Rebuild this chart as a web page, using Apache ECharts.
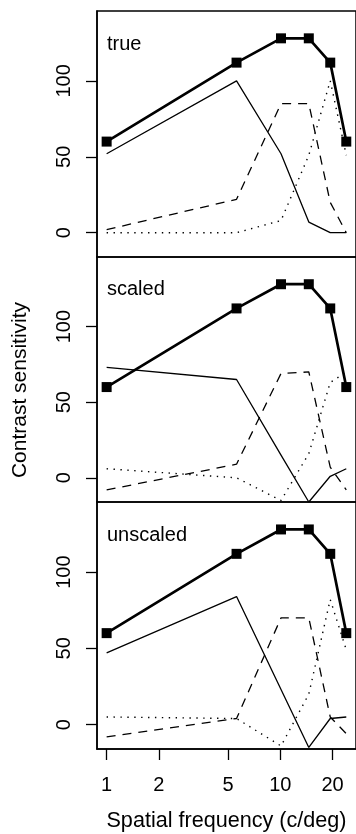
<!DOCTYPE html>
<html>
<head>
<meta charset="utf-8">
<script src="https://cdn.jsdelivr.net/npm/echarts@6/dist/echarts.min.js"></script>
<style>
  html, body { margin: 0; padding: 0; background: #fff; }
  #chart { width: 356px; height: 834px; }
</style>
</head>
<body>
<div id="chart"></div>
<script>
  // spatial frequency (c/deg) of the measured points
  const freq = [1, 5.6, 10.1, 14.6, 19.4, 24]
  // measured contrast sensitivity, same in every panel
  const observed = [60, 112, 128, 128, 112, 60]
  const panelNames = ['true', 'scaled', 'unscaled']
  // mechanism curves per panel
  const trueSolid = [52, 100, 52, 7, 0, 0]
  const trueDashed = [2, 22, 85, 85, 20, 0]
  const trueDotted = [0, 0, 8, 51, 100, 51]
  const scaledSolid = [73, 65, 15, -16, 1, 6]
  const scaledDashed = [-8, 9, 69, 70, 7, -8]
  const scaledDotted = [6, 0, -15, 16, 63, 70]
  const unscaledSolid = [47, 84, 23, -15, 4, 5]
  const unscaledDashed = [-8, 4, 70, 70, 5, -6]
  const unscaledDotted = [5, 4, -14, 20, 82, 49]
  const xTicks = [1, 2, 5, 10, 20]
  const yTicks = [0, 50, 100]

  const panels = [
    [trueSolid, trueDashed, trueDotted],
    [scaledSolid, scaledDashed, scaledDotted],
    [unscaledSolid, unscaledDashed, unscaledDotted],
  ]

  const font = '"Liberation Sans", Arial, sans-serif'
  const gridTops = [11, 257, 502]
  const gridHeights = [246, 245, 247]
  const labelY = [45, 290, 536]

  // x axis is drawn on log10 of frequency
  const lg = v => Math.log10(v)
  const pts = ys => ys.map((y, i) => [lg(freq[i]), y])

  var grid = []
  var xAxis = []
  var yAxis = []
  var series = []
  var graphic = []

  panels.forEach((p, k) => {
    const last = k === panels.length - 1
    grid.push({
      left: 97,
      top: gridTops[k],
      width: 261, // right frame falls just outside the picture
      height: gridHeights[k],
      show: true,
      borderColor: '#000',
      borderWidth: 1.5,
    })
    xAxis.push({
      type: 'value',
      gridIndex: k,
      position: 'bottom',
      min: lg(0.88),
      max: lg(27.3),
      show: last,
      splitLine: { show: false },
      axisLine: { show: true, onZero: false, lineStyle: { color: '#000', width: 1.5 } },
      axisTick: {
        show: true,
        length: 11,
        lineStyle: { color: '#000', width: 1.3 },
        customValues: xTicks.map(lg),
      },
      axisLabel: {
        color: '#000',
        fontFamily: font,
        fontSize: 20,
        margin: 26,
        customValues: xTicks.map(lg),
        formatter: v => String(Math.round(Math.pow(10, v))),
      },
      name: last ? 'Spatial frequency (c/deg)' : '',
      nameLocation: 'middle',
      nameGap: 61,
      nameTextStyle: { color: '#000', fontFamily: font, fontSize: 21.6 },
    })
    yAxis.push({
      type: 'value',
      gridIndex: k,
      position: 'left',
      min: -16,
      max: 146,
      splitLine: { show: false },
      axisLine: { show: true, onZero: false, lineStyle: { color: '#000', width: 1.5 } },
      axisTick: {
        show: true,
        length: 11,
        lineStyle: { color: '#000', width: 1.3 },
        customValues: yTicks,
      },
      axisLabel: {
        color: '#000',
        fontFamily: font,
        fontSize: 20,
        rotate: 90,
        margin: 23,
        customValues: yTicks,
      },
    })

    const common = { type: 'line', xAxisIndex: k, yAxisIndex: k, showSymbol: false, silent: true, animation: false }
    series.push(Object.assign({}, common, {
      data: pts(p[0]),
      lineStyle: { color: '#000', width: 1.3 },
    }))
    series.push(Object.assign({}, common, {
      data: pts(p[1]),
      lineStyle: { color: '#000', width: 1.3, type: [9, 7] },
    }))
    series.push(Object.assign({}, common, {
      data: pts(p[2]),
      lineStyle: { color: '#000', width: 1.4, type: [1.4, 5.5] },
    }))
    // observed data: thick line with filled squares
    series.push(Object.assign({}, common, {
      data: pts(observed),
      showSymbol: true,
      symbol: 'rect',
      symbolSize: 10,
      itemStyle: { color: '#000' },
      lineStyle: { color: '#000', width: 2.7 },
      z: 5,
    }))

    graphic.push({
      type: 'text',
      left: 107,
      top: labelY[k] - 11,
      style: { text: panelNames[k], fill: '#000', font: '20px ' + font },
    })
  })

  // shared y axis title
  graphic.push({
    type: 'text',
    x: 20,
    y: 390,
    rotation: Math.PI / 2,
    style: {
      text: 'Contrast sensitivity',
      fill: '#000',
      font: '21px ' + font,
      align: 'center',
      verticalAlign: 'middle',
    },
  })

  var myChart = echarts.init(document.getElementById('chart'), null, { renderer: 'canvas' })
  var option = {
    animation: false,
    grid: grid,
    xAxis: xAxis,
    yAxis: yAxis,
    series: series,
    graphic: graphic,
  }
  option && myChart.setOption(option)
</script>
</body>
</html>
